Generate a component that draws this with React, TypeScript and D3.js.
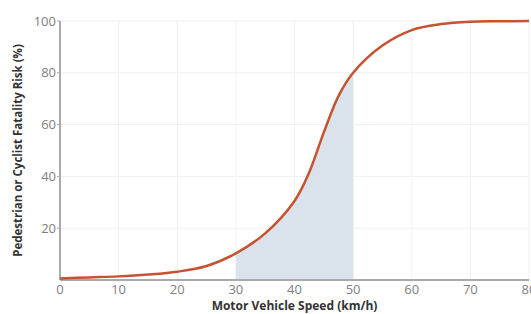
import * as d3 from "d3";
import React from "react";

const speeds = [0, 5, 10, 15, 20, 25, 30, 35, 40, 42.5, 45, 47.5, 50, 55, 60, 65, 70, 75, 80];
const risk = [0.6, 1, 1.4, 2.1, 3.2, 5.4, 10.3, 18, 30.5, 41.5, 57, 71, 80, 90.5, 96.5, 98.8, 99.7, 99.9, 100];
const xTicks = [0, 10, 20, 30, 40, 50, 60, 70, 80];
const yTicks = [20, 40, 60, 80, 100];
const shadeRange = [30, 50];

const width = 531;
const height = 314;
const margin = { left: 60, right: 2, top: 21, bottom: 34 };
const font = "'Open Sans', Lato, sans-serif";

export default function App() {
  const points = speeds.map((s, i) => ({ s, r: risk[i] }));

  const x = d3.scaleLinear().domain([0, 80]).range([margin.left, width - margin.right]);
  const y = d3.scaleLinear().domain([0, 100]).range([height - margin.bottom, margin.top]);

  const line = d3
    .line<{ s: number; r: number }>()
    .x((d) => x(d.s))
    .y((d) => y(d.r))
    .curve(d3.curveCatmullRom.alpha(0.5));

  const area = d3
    .area<{ s: number; r: number }>()
    .x((d) => x(d.s))
    .y0(y(0))
    .y1((d) => y(d.r))
    .curve(d3.curveCatmullRom.alpha(0.5));

  return (
    <svg
      width={width}
      height={height}
      style={{ position: "absolute", left: 0, top: 0, background: "#fff" }}
    >
      <defs>
        <clipPath id="band">
          <rect
            x={x(shadeRange[0])}
            y={0}
            width={x(shadeRange[1]) - x(shadeRange[0])}
            height={height}
          />
        </clipPath>
      </defs>

      {/* grid */}
      {xTicks.slice(1).map((t) => (
        <line key={"gx" + t} x1={x(t)} x2={x(t)} y1={y(100)} y2={y(0)} stroke="#f0f0f0" strokeWidth={1} />
      ))}
      {yTicks.map((t) => (
        <line key={"gy" + t} x1={x(0)} x2={x(80)} y1={y(t)} y2={y(t)} stroke="#f0f0f0" strokeWidth={1} />
      ))}

      {/* shaded region 30-50 */}
      <path d={area(points) || ""} fill="#dae2ec" clipPath="url(#band)" />

      {/* axes */}
      <line x1={x(0)} x2={x(80)} y1={y(0)} y2={y(0)} stroke="#aaaaaa" strokeWidth={2} />
      <line x1={x(0)} x2={x(0)} y1={y(100)} y2={y(0)} stroke="#aaaaaa" strokeWidth={2} />
      {yTicks.map((t) => (
        <g key={"ty" + t}>
          <line x1={x(0) - 3} x2={x(0)} y1={y(t)} y2={y(t)} stroke="#aaaaaa" strokeWidth={1} />
          <text
            x={x(0) - 4}
            y={y(t)}
            dy="0.35em"
            textAnchor="end"
            fontFamily={font}
            fontSize={13}
            fill="#808080"
          >
            {t}
          </text>
        </g>
      ))}
      {xTicks.map((t) => (
        <text
          key={"tx" + t}
          x={x(t)}
          y={y(0) + 14}
          textAnchor="middle"
          fontFamily={font}
          fontSize={13}
          fill="#808080"
        >
          {t}
        </text>
      ))}

      {/* curve */}
      <path d={line(points) || ""} fill="none" stroke="#c5532f" strokeWidth={2.5} />

      {/* titles */}
      <text
        x={(x(0) + x(80)) / 2}
        y={height - 4}
        textAnchor="middle"
        fontFamily={font}
        fontWeight="bold"
        fontSize={12}
        fill="#333"
      >
        Motor Vehicle Speed (km/h)
      </text>
      <text
        transform={`translate(22, ${(y(0) + y(100)) / 2}) rotate(-90)`}
        textAnchor="middle"
        fontFamily={font}
        fontWeight="bold"
        fontSize={11.5}
        fill="#333"
      >
        Pedestrian or Cyclist Fatality Risk (%)
      </text>
    </svg>
  );
}
